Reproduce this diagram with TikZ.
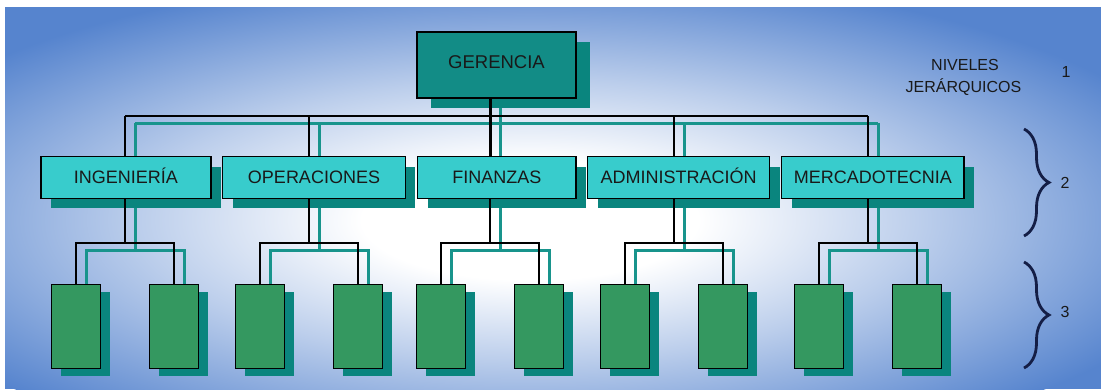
\documentclass[tikz,border=0pt]{standalone}
\usepackage{fontspec}
\setmainfont{Liberation Sans}
\usetikzlibrary{backgrounds}
\usetikzlibrary{shadows}
\usetikzlibrary{decorations.pathreplacing}

\definecolor{fondoazul}{RGB}{86,132,206}
\definecolor{turquesa}{RGB}{56,204,204}
\definecolor{gerverde}{RGB}{18,140,134}
\definecolor{sombra}{RGB}{10,133,126}
\definecolor{verde}{RGB}{52,152,96}
\definecolor{lineaverde}{RGB}{24,148,140}
\definecolor{azulllave}{RGB}{20,30,70}
\pgfdeclareradialshading{fondo}{\pgfpoint{0bp}{0bp}}{color(0bp)=(white); color(6bp)=(white); color(14bp)=(fondoazul!40!white); color(25bp)=(fondoazul); color(50bp)=(fondoazul)}

% las ramas del organigrama (se dibujan dos veces: sombra y linea)
\newcommand{\ramas}{%
  \draw[line width=3pt] (ger.south -| finx) -- (fin.north -| finx);
  \draw (bus -| ingx) -- (bus -| merx);
  \draw (bus -| ingx) -- (ing.north -| ingx);
  \draw (bus -| opex) -- (ope.north -| opex);
  \draw (bus -| admx) -- (adm.north -| admx);
  \draw (bus -| merx) -- (mer.north -| merx);
  \draw (ing.south -| ingx) -- (bus3 -| ingx);
  \draw (ope.south -| opex) -- (bus3 -| opex);
  \draw (fin.south -| finx) -- (bus3 -| finx);
  \draw (adm.south -| admx) -- (bus3 -| admx);
  \draw (mer.south -| merx) -- (bus3 -| merx);
  \draw (ing1.north) |- (bus3 -| ing2) -- (ing2.north);
  \draw (ope1.north) |- (bus3 -| ope2) -- (ope2.north);
  \draw (fin1.north) |- (bus3 -| fin2) -- (fin2.north);
  \draw (adm1.north) |- (bus3 -| adm2) -- (adm2.north);
  \draw (mer1.north) |- (bus3 -| mer2) -- (mer2.north);
}

\begin{document}
\begin{tikzpicture}[x=1pt, y=-1pt,
    gerente/.style={draw=black, line width=1.5pt, fill=gerverde, minimum width=159pt,
      minimum height=66pt, inner sep=0pt, text=black!90, font=\fontsize{18.5}{18.5}\selectfont,
      text height=13.2pt, text depth=6pt,
      drop shadow={shadow xshift=14pt, shadow yshift=-10pt, fill=sombra, opacity=1}},
    depto/.style={draw=black, line width=1.5pt, fill=turquesa, minimum height=41.6pt,
      inner sep=0pt, text=black!90, font=\fontsize{18}{18}\selectfont,
      text height=12.9pt, text depth=0pt,
      drop shadow={shadow xshift=10pt, shadow yshift=-10pt, fill=sombra, opacity=1}},
    seccion/.style={draw=black, line width=1.5pt, fill=verde, minimum width=49pt,
      minimum height=84pt, inner sep=0pt,
      drop shadow={shadow xshift=9pt, shadow yshift=-8pt, fill=sombra, opacity=1}},
    nivel/.style={anchor=base, text=black!90, font=\fontsize{16}{16}\selectfont},
    llave/.style={draw=azulllave, line width=2.8pt, decorate,
      decoration={brace, amplitude=25pt}}]
  \useasboundingbox (0,0) rectangle (1101,389);

  \begin{scope}[on background layer]
    \fill[white] (0,0) rectangle (1101,389);
    \clip (5,7) rectangle (1101,389);
    \fill[fondoazul] (5,7) rectangle (1101,389);
    \shade[shading=fondo] (530,220) ellipse [x radius=700pt, y radius=250pt];
  \end{scope}

  % nivel 1
  \node[gerente] (ger) at (496.5,64.9) {GERENCIA};

  % nivel 2
  \node[depto, minimum width=170pt] (ing) at (125.8,177.5) {INGENIERÍA};
  \node[depto, minimum width=182.6pt] (ope) at (314,177.5) {OPERACIONES};
  \node[depto, minimum width=158.3pt] (fin) at (496.8,177.5) {FINANZAS};
  \node[depto, minimum width=182pt] (adm) at (678.7,177.5) {ADMINISTRACIÓN};
  \node[depto, minimum width=182.3pt] (mer) at (872.8,177.5) {MERCADOTECNIA};

  \coordinate (ingx) at (125,0);
  \coordinate (opex) at (309,0);
  \coordinate (finx) at (490,0);
  \coordinate (admx) at (674,0);
  \coordinate (merx) at (868,0);
  \coordinate (bus) at (0,116);
  \coordinate (bus3) at (0,243);

  % nivel 3
  \node[seccion] (ing1) at (76,326.3) {};
  \node[seccion] (ing2) at (174,326.3) {};
  \node[seccion] (ope1) at (260,326.3) {};
  \node[seccion] (ope2) at (358,326.3) {};
  \node[seccion] (fin1) at (441,326.3) {};
  \node[seccion] (fin2) at (539,326.3) {};
  \node[seccion] (adm1) at (625,326.3) {};
  \node[seccion] (adm2) at (723,326.3) {};
  \node[seccion] (mer1) at (819,326.3) {};
  \node[seccion] (mer2) at (917,326.3) {};

  \begin{scope}[on background layer]
    \begin{scope}[transform canvas={xshift=10pt, yshift=-7pt}, color=lineaverde, line width=3pt]
      \ramas
    \end{scope}
  \end{scope}
  \begin{scope}[line width=1.8pt]
    \ramas
  \end{scope}

  % niveles jerarquicos
  \node[nivel] (niveles) at (965,70.7) {NIVELES};
  \node[nivel] (jerarquicos) at (963.5,92.2) {JERÁRQUICOS};
  \node[nivel] (uno) at (1066,77.9) {1};
  \coordinate (dosa) at (1024,129);
  \coordinate (dosb) at (1024,236);
  \draw[llave] (dosa) -- (dosb);
  \node[nivel] (dos) at (1065,188.4) {2};
  \coordinate (tresa) at (1024,262);
  \coordinate (tresb) at (1024,368);
  \draw[llave] (tresa) -- (tresb);
  \node[nivel] (tres) at (1065,317.4) {3};
\end{tikzpicture}
\end{document}
